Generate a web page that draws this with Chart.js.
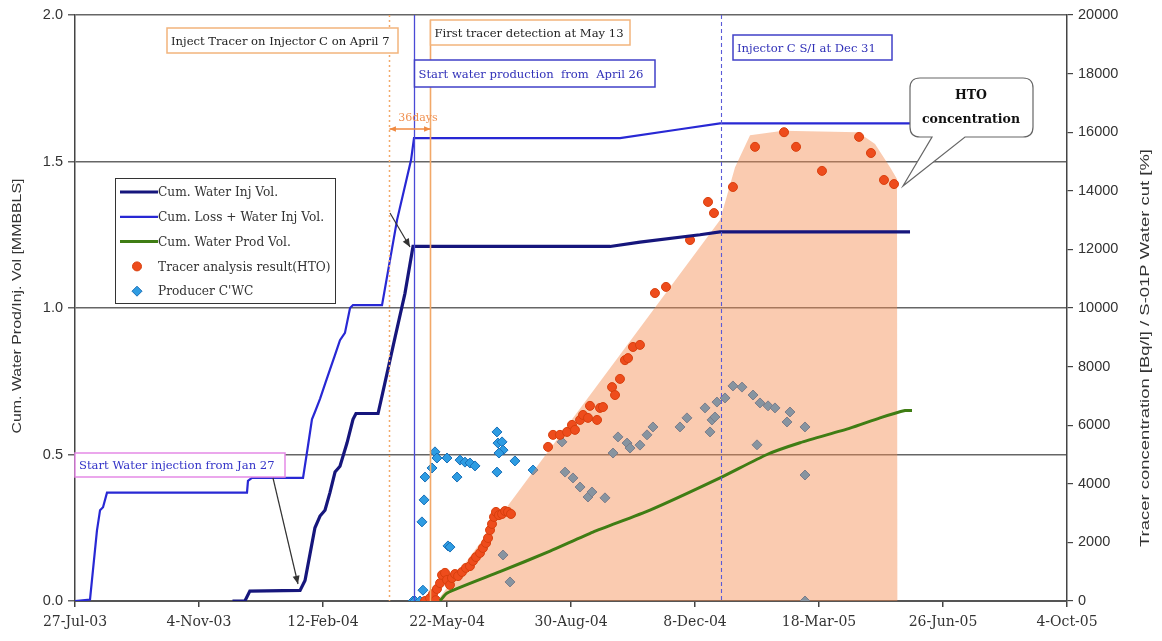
<!DOCTYPE html>
<html>
<head>
<meta charset="utf-8">
<script src="https://cdn.jsdelivr.net/npm/chart.js@4.4.1/dist/chart.umd.min.js"></script>
<style>
  html, body { margin: 0; padding: 0; background: #fff; }
  #wrap { width: 1162px; height: 641px; }
</style>
</head>
<body>
<div id="wrap"><canvas id="myChart" width="1162" height="641"></canvas></div>
<script>
// x values are days since 27-Jul-03, one tick every 100 days
const tickLabels = ['27-Jul-03', '4-Nov-03', '12-Feb-04', '22-May-04', '30-Aug-04', '8-Dec-04', '18-Mar-05', '26-Jun-05', '4-Oct-05'];

// Cum. Water Inj Vol. [MMBBLS]
const injDays = [127, 137, 141, 181.5, 185.5, 189.5, 193.5, 197.6, 201.6, 205.6, 209.7, 213.7, 219.4, 224.2, 226.6, 244.4, 247.6, 258.1, 266.1, 272.6, 431.5, 455.6, 504, 520.2, 673.4];
const injVol = [0, 0, 0.034, 0.036, 0.07, 0.16, 0.25, 0.29, 0.31, 0.37, 0.44, 0.46, 0.54, 0.62, 0.64, 0.64, 0.70, 0.90, 1.05, 1.21, 1.21, 1.225, 1.25, 1.26, 1.26];

// Cum. Loss + Water Inj Vol. [MMBBLS]
const lossDays = [0, 12.1, 17.7, 20.2, 22.6, 25.8, 28.2, 138.7, 139.5, 142.7, 183.9, 187.9, 191.1, 193.5, 197.6, 201.6, 205.6, 209.7, 213.7, 217.7, 221.8, 224.2, 247.6, 259.7, 271, 273.4, 439.5, 487.9, 520.2, 673.4];
const lossVol = [0, 0.005, 0.24, 0.31, 0.32, 0.37, 0.37, 0.37, 0.41, 0.42, 0.42, 0.53, 0.62, 0.645, 0.69, 0.74, 0.79, 0.84, 0.89, 0.915, 1.0, 1.01, 1.01, 1.30, 1.505, 1.58, 1.58, 1.61, 1.63, 1.63];

// Cum. Water Prod Vol. [MMBBLS]
const prodDays = [294.4, 300, 342.7, 383.1, 417.7, 463.7, 520.2, 558.1, 584.7, 625, 649.2, 669.4, 675];
const prodVol = [0.0, 0.027, 0.10, 0.17, 0.235, 0.31, 0.42, 0.5, 0.54, 0.59, 0.625, 0.65, 0.65];

// Tracer analysis result (HTO) [Bq/l]
const htoDays = [282.3, 286.3, 288.7, 291, 291.9, 294.4, 296, 298.4, 300, 302.4, 304, 306.5, 308.9, 312.1, 315.3, 318.5, 321, 323.4, 326.6, 329, 331.5, 333.1, 334.7, 336.3, 337.9, 339.5, 341.9, 344.4, 346.8, 349.2, 351.6,
  381.5, 385.5, 391.1, 396.8, 400.8, 403.2, 407.3, 409.7, 415.3, 413.7, 421, 423.4, 425.8, 433.1, 435.5, 439.5, 443.5, 446, 450, 455.6, 467.7, 476.6,
  496, 510.5, 515.3, 530.6, 548.4, 571.8, 581.5, 602.4, 632.3, 641.9, 652.4, 660.5];
const htoConc = [0, 100, 240, 30, 410, 610, 890, 960, 720, 550, 785, 920, 850, 990, 1130, 1190, 1370, 1500, 1640, 1810, 1980, 2150, 2420, 2630, 2870, 3040, 2930, 2970, 3070, 3040, 2970,
  5260, 5670, 5670, 5770, 6010, 5840, 6180, 6350, 6660, 6250, 6180, 6590, 6620, 7300, 7030, 7580, 8220, 8290, 8670, 8740, 10510, 10720,
  12320, 13620, 13240, 14130, 15500, 16000, 15500, 14680, 15840, 15290, 14370, 14230];

// Producer C'WC [%]
const wcDays = [272.6, 274.2, 278.2, 280.6, 279.8, 281.5, 282.3, 287.9, 290.3, 291.9, 300, 308.1, 300.8, 302.4, 310.5, 314.5, 318.5, 322.6, 340.3, 341.1, 344.4, 345.2, 341.9, 340.3, 354.8, 369.4, 345.2, 350.8,
  392.7, 395.2, 401.6, 407.3, 413.7, 416.9, 427.4, 433.9, 437.9, 445.2, 447.6, 455.6, 461.3, 466.1, 487.9, 493.5, 508.1, 513.7, 512.1, 516.1, 517.7, 524.2, 530.6, 537.9, 546.8, 552.4, 550, 558.9, 564.5, 574.2, 576.6, 588.7, 588.7, 588.7];
const wcVal = [0, 0, 0, 370, 2700, 3450, 4230, 4540, 5090, 4880, 4880, 4230, 1880, 1840, 4810, 4740, 4710, 4610, 5770, 5390, 5430, 5150, 5050, 4400, 4780, 4470, 1570, 650,
  5430, 4400, 4200, 3890, 3550, 3720, 3520, 5050, 5600, 5390, 5220, 5320, 5670, 5940, 5940, 6250, 6590, 6180, 5770, 6280, 6790, 6930, 7340, 7300, 7030, 6760, 5330, 6660, 6590, 6110, 6450, 5940, 4300, 0];

// HTO concentration envelope (shaded area)
const envDays = [292, 520.2, 532.3, 544.4, 571, 631.5, 645.2, 657.3, 662.9, 663.4];
const envConc = [0, 13000, 14800, 15900, 16050, 16000, 15600, 14800, 14400, 0];

// tracer inject Apr 7, production start Apr 26, first detection May 13, injector S/I Dec 31
const eventDays = [253, 273, 286, 521];

const zip = (xs, ys) => xs.map((v, i) => ({ x: v, y: ys[i] }));

const SERIF = '"DejaVu Serif", "Liberation Serif", serif';
const SANS = '"Liberation Sans", Arial, sans-serif';

function textBox(ctx, x0, y0, x1, y1, border, text, color) {
    ctx.save();
    ctx.fillStyle = '#fff';
    ctx.fillRect(x0, y0, x1 - x0, y1 - y0);
    ctx.strokeStyle = border;
    ctx.lineWidth = 1.5;
    ctx.strokeRect(x0, y0, x1 - x0, y1 - y0);
    ctx.fillStyle = color;
    ctx.font = '11.6px ' + SERIF;
    ctx.textBaseline = 'middle';
    ctx.fillText(text, x0 + 4, (y0 + y1) / 2 + 1);
    ctx.restore();
}

function arrowHead(ctx, x0, y0, x1, y1, size) {
    const ang = Math.atan2(y1 - y0, x1 - x0);
    ctx.beginPath();
    ctx.moveTo(x1, y1);
    ctx.lineTo(x1 - size * Math.cos(ang - 0.4), y1 - size * Math.sin(ang - 0.4));
    ctx.lineTo(x1 - size * Math.cos(ang + 0.4), y1 - size * Math.sin(ang + 0.4));
    ctx.closePath();
    ctx.fill();
}

function arrow(ctx, x0, y0, x1, y1, color) {
    ctx.save();
    ctx.strokeStyle = color;
    ctx.fillStyle = color;
    ctx.lineWidth = 1.2;
    ctx.beginPath();
    ctx.moveTo(x0, y0);
    ctx.lineTo(x1, y1);
    ctx.stroke();
    arrowHead(ctx, x0, y0, x1, y1, 9);
    ctx.restore();
}

// vertical text stretched to a given length
function sideTitle(ctx, text, cx, cy, len) {
    ctx.save();
    ctx.fillStyle = '#333';
    ctx.font = '12.5px ' + SANS;
    ctx.textAlign = 'center';
    ctx.textBaseline = 'middle';
    ctx.translate(cx, cy);
    ctx.rotate(-Math.PI / 2);
    ctx.scale(len / ctx.measureText(text).width, 1);
    ctx.fillText(text, 0, 0);
    ctx.restore();
}

// Event lines, text boxes, arrows and callout
const notes = {
    id: 'notes',
    afterDatasetsDraw(chart) {
        const { ctx, chartArea: a, scales: { x } } = chart;
        const top = a.top, bot = a.bottom;
        const vline = (day, y0, color, width, dash) => {
            const px = Math.round(x.getPixelForValue(day)) + 0.5;
            ctx.save();
            ctx.strokeStyle = color;
            ctx.lineWidth = width;
            ctx.setLineDash(dash);
            ctx.beginPath();
            ctx.moveTo(px, y0);
            ctx.lineTo(px, bot);
            ctx.stroke();
            ctx.restore();
            return px;
        };
        const pInj = vline(eventDays[0], top, '#f2a868', 1.5, [2, 3]);
        const pProd = vline(eventDays[1], top, '#4a4ad6', 1.3, []);
        const pDet = vline(eventDays[2], top + 5, '#f2a868', 1.6, []);
        vline(eventDays[3], top, '#5a5ad8', 1.1, [4, 3]);

        textBox(ctx, 167, 28, 398, 53, '#f2b47c', 'Inject Tracer on Injector C on April 7', '#222');
        textBox(ctx, pDet, 20, 630, 45, '#f2b47c', 'First tracer detection at May 13', '#222');
        textBox(ctx, pProd, 60, 655, 87, '#4040c8', 'Start water production  from  April 26', '#3030b8');
        textBox(ctx, 733, 35, 892, 60, '#4040c8', 'Injector C S/I at Dec 31', '#3030b8');
        textBox(ctx, a.left, 453, 285, 477, '#e58ae6', 'Start Water injection from Jan 27', '#3434c8');

        // 36 days between tracer injection and first detection
        ctx.save();
        ctx.fillStyle = '#f09050';
        ctx.strokeStyle = '#f08a40';
        ctx.font = '11px ' + SERIF;
        ctx.textAlign = 'center';
        ctx.textBaseline = 'middle';
        ctx.fillText('36days', (pInj + pDet) / 2 + 8, 118);
        ctx.lineWidth = 1.5;
        ctx.beginPath();
        ctx.moveTo(pInj, 129);
        ctx.lineTo(pDet, 129);
        ctx.stroke();
        ctx.fillStyle = '#f08a40';
        arrowHead(ctx, pDet, 129, pInj, 129, 7);
        arrowHead(ctx, pInj, 129, pDet, 129, 7);
        ctx.restore();

        arrow(ctx, 273, 478, 298, 584, '#333');
        arrow(ctx, 390, 213, 410, 247, '#333');

        // HTO callout
        const bx0 = 910, by0 = 78, bx1 = 1033, by1 = 137, r = 10;
        ctx.save();
        ctx.fillStyle = '#fff';
        ctx.strokeStyle = '#666';
        ctx.lineWidth = 1.2;
        ctx.beginPath();
        ctx.moveTo(bx0 + r, by0);
        ctx.lineTo(bx1 - r, by0);
        ctx.quadraticCurveTo(bx1, by0, bx1, by0 + r);
        ctx.lineTo(bx1, by1 - r);
        ctx.quadraticCurveTo(bx1, by1, bx1 - r, by1);
        ctx.lineTo(965, by1);
        ctx.lineTo(903, 186);
        ctx.lineTo(932, by1);
        ctx.lineTo(bx0 + r, by1);
        ctx.quadraticCurveTo(bx0, by1, bx0, by1 - r);
        ctx.lineTo(bx0, by0 + r);
        ctx.quadraticCurveTo(bx0, by0, bx0 + r, by0);
        ctx.closePath();
        ctx.fill();
        ctx.stroke();
        ctx.fillStyle = '#111';
        ctx.font = 'bold 12.5px ' + SERIF;
        ctx.textAlign = 'center';
        ctx.textBaseline = 'middle';
        ctx.fillText('HTO', 971, 96);
        ctx.fillText('concentration', 971, 120);
        ctx.restore();
    },
    afterDraw(chart) {
        const { ctx } = chart;
        // legend
        ctx.save();
        ctx.fillStyle = '#fff';
        ctx.fillRect(115, 178, 220, 125);
        ctx.strokeStyle = '#333';
        ctx.lineWidth = 1;
        ctx.strokeRect(115.5, 178.5, 220, 125);
        ctx.font = '12.2px ' + SERIF;
        ctx.textBaseline = 'middle';
        chart.data.datasets.forEach((ds) => {
            if (ds.legendRow === undefined) return;
            const yy = 192 + ds.legendRow * 24.8;
            if (ds.type === 'line') {
                ctx.strokeStyle = ds.borderColor;
                ctx.lineWidth = ds.borderWidth;
                ctx.beginPath();
                ctx.moveTo(120, yy);
                ctx.lineTo(158, yy);
                ctx.stroke();
            } else {
                ctx.fillStyle = ds.backgroundColor;
                ctx.strokeStyle = ds.borderColor;
                ctx.lineWidth = 1;
                ctx.beginPath();
                if (ds.pointStyle === 'rectRot') {
                    ctx.moveTo(137, yy - 5); ctx.lineTo(142, yy); ctx.lineTo(137, yy + 5); ctx.lineTo(132, yy);
                    ctx.closePath();
                } else {
                    ctx.arc(137, yy, 4.5, 0, Math.PI * 2);
                }
                ctx.fill();
                ctx.stroke();
            }
            ctx.fillStyle = '#333';
            ctx.fillText(ds.label, 158, yy + 1);
        });
        ctx.restore();

        // axis titles
        sideTitle(ctx, 'Cum. Water Prod/Inj. Vol [MMBBLS]', 18, 306, 255);
        sideTitle(ctx, 'Tracer concentration [Bq/l] / S-01P Water cut [%]', 1146, 348, 398);
    }
};

const ctx = document.getElementById('myChart').getContext('2d');
new Chart(ctx, {
    type: 'scatter',
    data: {
        datasets: [
            {
                type: 'line', label: 'Cum. Water Inj Vol.', data: zip(injDays, injVol), yAxisID: 'y',
                borderColor: '#16167c', borderWidth: 3.2, pointRadius: 0, tension: 0, fill: false, order: 0, legendRow: 0
            },
            {
                type: 'line', label: 'Cum. Loss + Water Inj Vol.', data: zip(lossDays, lossVol), yAxisID: 'y',
                borderColor: '#2828d4', borderWidth: 2.2, pointRadius: 0, tension: 0, fill: false, order: 1, legendRow: 1
            },
            {
                type: 'line', label: 'Cum. Water Prod Vol.', data: zip(prodDays, prodVol), yAxisID: 'y',
                borderColor: '#3f7d14', borderWidth: 3, pointRadius: 0, tension: 0.2, fill: false, order: 0, legendRow: 2
            },
            {
                type: 'scatter', label: 'Tracer analysis result(HTO)', data: zip(htoDays, htoConc), yAxisID: 'y2',
                backgroundColor: '#ee4c1c', borderColor: '#d8400e', borderWidth: 1, pointRadius: 4.5, order: 2, legendRow: 3
            },
            {
                type: 'line', label: 'HTO envelope', data: zip(envDays, envConc), yAxisID: 'y2',
                backgroundColor: 'rgba(245,140,80,0.45)', borderWidth: 0, pointRadius: 0, tension: 0, fill: 'origin', order: 3
            },
            {
                type: 'scatter', label: "Producer C'WC", data: zip(wcDays, wcVal), yAxisID: 'y2',
                pointStyle: 'rectRot', backgroundColor: '#2e9ce2', borderColor: '#1a70b8', borderWidth: 1, pointRadius: 5, order: 4, legendRow: 4
            }
        ]
    },
    options: {
        responsive: false,
        animation: false,
        events: [],
        layout: { padding: { top: 15, left: 0, right: 0, bottom: 0 } },
        plugins: { legend: { display: false }, tooltip: { enabled: false } },
        scales: {
            x: {
                type: 'linear', min: 0, max: 800,
                afterFit: (s) => { s.height = 40; },
                ticks: {
                    stepSize: 100, autoSkip: false, maxRotation: 0, padding: 7,
                    color: '#333', font: { family: SERIF, size: 14 },
                    callback: (v) => tickLabels[Math.round(v / 100)]
                },
                grid: { drawOnChartArea: false, tickLength: 6, color: '#444', lineWidth: 1.5 },
                border: { display: true, color: '#555', width: 2 }
            },
            y: {
                position: 'left', min: 0, max: 2.0,
                afterFit: (s) => { s.width = 75; },
                ticks: {
                    stepSize: 0.5, padding: 5, color: '#333', font: { family: SANS, size: 14.5 },
                    callback: (v) => v.toFixed(1)
                },
                grid: { color: '#666', lineWidth: 1.5, tickLength: 7 },
                border: { display: true, color: '#444', width: 1.5 }
            },
            y2: {
                position: 'right', min: 0, max: 20000,
                afterFit: (s) => { s.width = 95; },
                ticks: {
                    stepSize: 2000, padding: 5, color: '#333', font: { family: SANS, size: 14.5 },
                    callback: (v) => String(v)
                },
                grid: { drawOnChartArea: false, tickLength: 6, color: '#444', lineWidth: 1.2 },
                border: { display: true, color: '#444', width: 1.5 }
            }
        }
    },
    plugins: [notes]
});
</script>
</body>
</html>
